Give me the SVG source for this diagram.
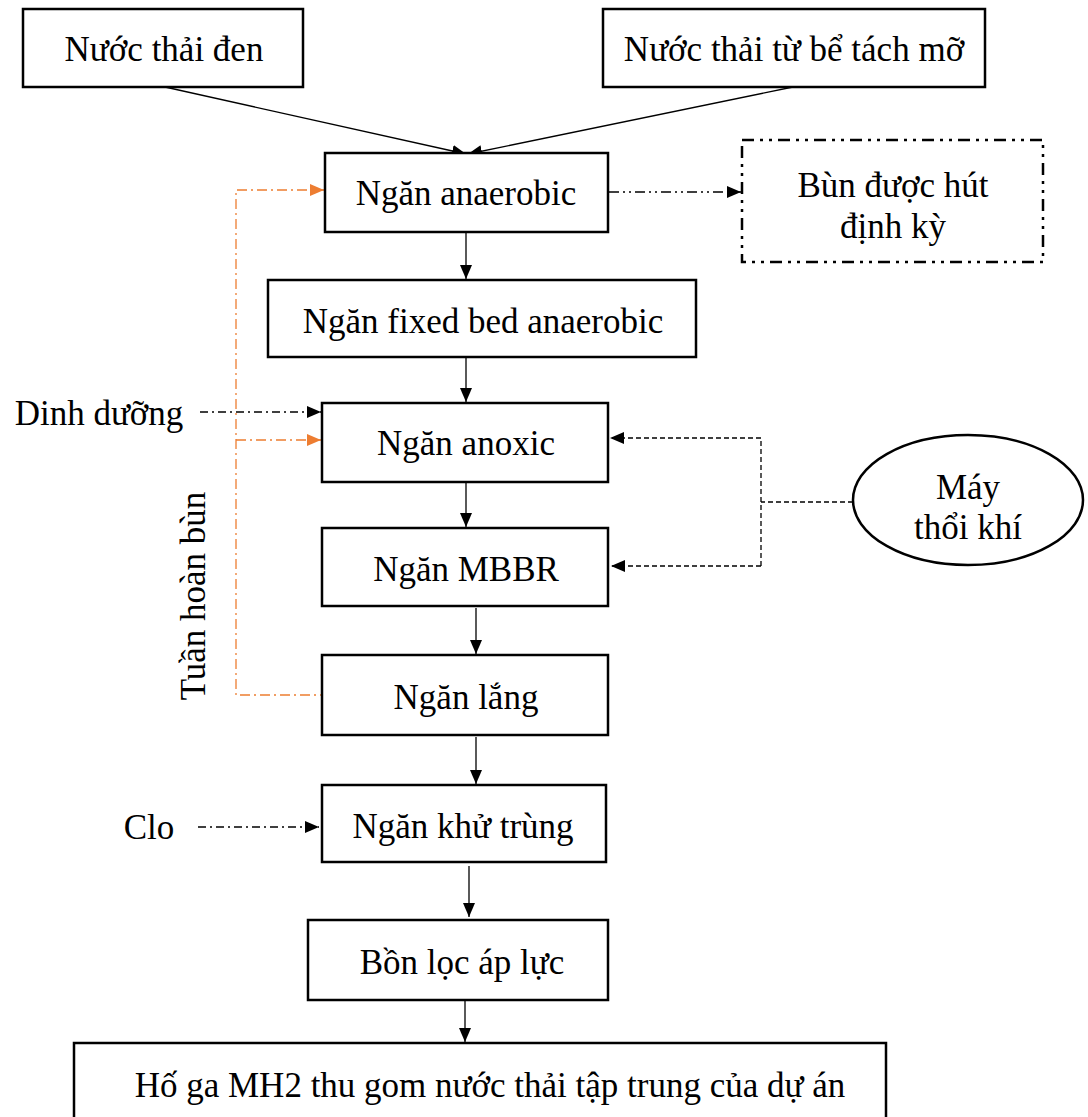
<svg xmlns="http://www.w3.org/2000/svg" width="1088" height="1117" viewBox="0 0 1088 1117">
<defs>
<style>
.box{fill:#fff;stroke:#000;stroke-width:2.5}
.t{font-family:'Liberation Serif','Times New Roman',serif;font-size:35px;fill:#000;text-anchor:middle}
.c{fill:none;stroke:#000;stroke-width:1.3}
.dd{stroke-dasharray:8 4 2 4}
.ddd{stroke-dasharray:10 4 2 4 2 4}
.dash{stroke-dasharray:5 3}
.or{fill:none;stroke:#ED7D31;stroke-width:1.3;stroke-dasharray:10 4 2 4}
</style>
<marker id="ah" markerWidth="14" markerHeight="12" refX="14" refY="6" orient="auto" markerUnits="userSpaceOnUse"><path d="M0,0 L14,6 L0,12 Z" fill="#000"/></marker>
<marker id="aho" markerWidth="14" markerHeight="12" refX="14" refY="6" orient="auto" markerUnits="userSpaceOnUse"><path d="M0,0 L14,6 L0,12 Z" fill="#ED7D31"/></marker>
</defs>
<rect width="1088" height="1117" fill="#fff"/>
<g id="connectors">
<line class="c" x1="165" y1="87" x2="466" y2="154" marker-end="url(#ah)"/>
<line class="c" x1="793" y1="87" x2="468" y2="154" marker-end="url(#ah)"/>
<line class="c ddd" x1="609" y1="192" x2="741" y2="192" marker-end="url(#ah)"/>
<line class="c" x1="466" y1="232" x2="466" y2="279" marker-end="url(#ah)"/>
<line class="c" x1="466" y1="357" x2="466" y2="402" marker-end="url(#ah)"/>
<line class="c dd" x1="200" y1="412" x2="321" y2="412" marker-end="url(#ah)"/>
<line class="c" x1="466" y1="482" x2="466" y2="527" marker-end="url(#ah)"/>
<line class="c" x1="476" y1="608" x2="476" y2="654" marker-end="url(#ah)"/>
<line class="c" x1="476" y1="737" x2="476" y2="784" marker-end="url(#ah)"/>
<line class="c dd" x1="198" y1="827" x2="319" y2="827" marker-end="url(#ah)"/>
<line class="c" x1="469" y1="866" x2="469" y2="917" marker-end="url(#ah)"/>
<line class="c" x1="465" y1="1000" x2="465" y2="1042" marker-end="url(#ah)"/>
<polyline class="or" points="330,695 236,695 236,190 324,190" marker-end="url(#aho)"/>
<polyline class="or" points="236,440 321,440" marker-end="url(#aho)"/>
<polyline class="c dash" points="853,502 761,502"/>
<polyline class="c dash" points="761,566 761,438 610,438" marker-end="url(#ah)"/>
<polyline class="c dash" points="761,566 611,566" marker-end="url(#ah)"/>
</g>
<g id="n1"><rect class="box" x="23" y="9" width="280" height="78"/><text class="t" x="164" y="61">Nước thải đen</text></g>
<g id="n2"><rect class="box" x="603" y="9" width="382" height="78"/><text class="t" x="794" y="61">Nước thải từ bể tách mỡ</text></g>
<g id="n3"><rect class="box" x="325" y="153" width="283" height="79"/><text class="t" x="466" y="205">Ngăn anaerobic</text></g>
<g id="n4"><rect x="742" y="140" width="301" height="122" fill="#fff" stroke="#000" stroke-width="2.5" stroke-dasharray="12 6 3 6 3 6"/><text class="t" x="893" y="197">Bùn được hút</text><text class="t" x="893" y="238">định kỳ</text></g>
<g id="n5"><rect class="box" x="268" y="280" width="428" height="77"/><text class="t" x="483" y="333">Ngăn fixed bed anaerobic</text></g>
<g id="n6"><rect class="box" x="322" y="403" width="286" height="79"/><text class="t" x="466" y="455">Ngăn anoxic</text></g>
<g id="n7"><rect class="box" x="322" y="528" width="286" height="78"/><text class="t" x="466" y="581">Ngăn MBBR</text></g>
<g id="n8"><rect class="box" x="322" y="655" width="286" height="80"/><text class="t" x="466" y="709">Ngăn lắng</text></g>
<g id="n9"><rect class="box" x="322" y="785" width="284" height="77"/><text class="t" x="463" y="838">Ngăn khử trùng</text></g>
<g id="n10"><rect class="box" x="308" y="920" width="300" height="80"/><text class="t" x="462" y="974">Bồn lọc áp lực</text></g>
<g id="n11"><rect class="box" x="74" y="1043" width="812" height="80"/><text class="t" x="490" y="1097">Hố ga MH2 thu gom nước thải tập trung của dự án</text></g>
<g id="n12"><ellipse cx="968" cy="500" rx="115" ry="65" fill="#fff" stroke="#000" stroke-width="2.5"/><text class="t" x="968" y="499">Máy</text><text class="t" x="968" y="539">thổi khí</text></g>
<g id="labels">
<text class="t" x="99" y="425">Dinh dưỡng</text>
<text class="t" x="149" y="839">Clo</text>
<text class="t" transform="translate(205,596) rotate(-90)">Tuần hoàn bùn</text>
</g>
</svg>
